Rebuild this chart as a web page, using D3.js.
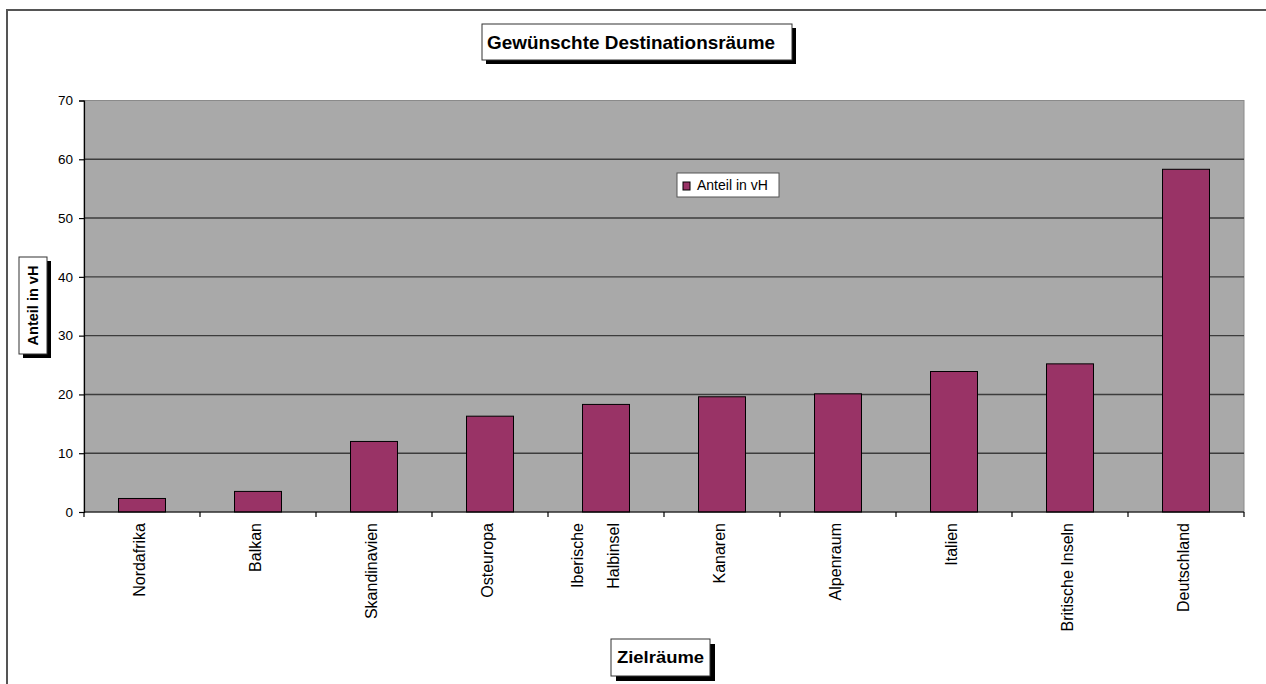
<!DOCTYPE html>
<html>
<head>
<meta charset="utf-8">
<script src="https://cdn.jsdelivr.net/npm/d3@7"></script>
<style>
  html, body { margin: 0; padding: 0; background: #fff; }
  svg { display: block; font-family: "Liberation Sans", Arial, sans-serif; }
</style>
</head>
<body>
<svg id="chart" width="1266" height="684"></svg>
<script>
// Zielräume und Anteil in vH
const categories = ["Nordafrika", "Balkan", "Skandinavien", "Osteuropa", "Iberische Halbinsel",
  "Kanaren", "Alpenraum", "Italien", "Britische Inseln", "Deutschland"];
const values = [2.3, 3.5, 12.0, 16.3, 18.3, 19.6, 20.1, 23.9, 25.2, 58.3];
// Achsenbeschriftung der Kategorien (mit Zeilenumbruch)
const categoryLabelLines = [["Nordafrika"], ["Balkan"], ["Skandinavien"], ["Osteuropa"],
  ["Iberische", "Halbinsel"], ["Kanaren"], ["Alpenraum"], ["Italien"], ["Britische Inseln"], ["Deutschland"]];
const yTicks = [0, 10, 20, 30, 40, 50, 60, 70];
const titleText = "Gewünschte Destinationsräume";
const xTitle = "Zielräume";
const yTitle = "Anteil in vH";
const seriesName = "Anteil in vH";

const svg = d3.select("#chart");
const plot = { left: 84, right: 1244, top: 100.5, bottom: 512 };
const barColor = "#993366";

// Äußerer Diagrammrahmen
svg.append("rect").attr("x", 7).attr("y", 10).attr("width", 1300).attr("height", 700)
  .attr("fill", "#fff").attr("stroke", "#555").attr("stroke-width", 2);

const x = d3.scaleBand().domain(categories).range([plot.left, plot.right])
  .paddingInner(0.595).paddingOuter(0.2975);
const y = d3.scaleLinear().domain([0, 70]).range([plot.bottom, plot.top]);

// Zeichenfläche
svg.append("rect").attr("x", plot.left).attr("y", plot.top)
  .attr("width", plot.right - plot.left).attr("height", plot.bottom - plot.top)
  .attr("fill", "#a9a9a9").attr("stroke", "#8a8a8a").attr("stroke-width", 1);

// Gitterlinien
svg.append("g").selectAll("line").data(yTicks.filter(t => t > 0 && t < 70)).join("line")
  .attr("x1", plot.left).attr("x2", plot.right)
  .attr("y1", d => y(d)).attr("y2", d => y(d))
  .attr("stroke", "#3c3c3c").attr("stroke-width", 1.4);

// Balken
svg.append("g").selectAll("rect").data(categories).join("rect")
  .attr("x", d => x(d)).attr("width", x.bandwidth())
  .attr("y", (d, i) => y(values[i])).attr("height", (d, i) => y(0) - y(values[i]))
  .attr("fill", barColor).attr("stroke", "#000").attr("stroke-width", 1);

// Y-Achse
const yAxis = svg.append("g").attr("transform", `translate(${plot.left},0)`)
  .call(d3.axisLeft(y).tickValues(yTicks).tickSize(5).tickPadding(6));
yAxis.select(".domain").attr("stroke", "#000").attr("stroke-width", 1.2);
yAxis.selectAll(".tick line").attr("stroke", "#000").attr("stroke-width", 1.2);
yAxis.selectAll(".tick text").attr("font-size", 13.5).attr("fill", "#000")
  .attr("font-family", "Liberation Sans, Arial, sans-serif");

// X-Achse mit Teilstrichen an den Kategoriegrenzen
const boundaries = d3.range(categories.length + 1).map(i => x.range()[0] + i * x.step());
svg.append("line").attr("x1", plot.left).attr("x2", plot.right)
  .attr("y1", plot.bottom).attr("y2", plot.bottom).attr("stroke", "#000").attr("stroke-width", 1.2);
svg.append("g").selectAll("line").data(boundaries).join("line")
  .attr("x1", d => d).attr("x2", d => d).attr("y1", plot.bottom).attr("y2", plot.bottom + 5)
  .attr("stroke", "#000").attr("stroke-width", 1.2);

// Kategoriebeschriftungen (senkrecht)
const lineOffsets = { 1: [0], 2: [-26, 10] };
const lbl = svg.append("g");
categories.forEach((c, i) => {
  const lines = categoryLabelLines[i];
  const cx = x(c) + x.bandwidth() / 2 - 3;
  lines.forEach((t, j) => {
    const lx = cx + lineOffsets[lines.length][j];
    lbl.append("text")
      .attr("transform", `translate(${lx},523) rotate(-90)`)
      .attr("text-anchor", "end").attr("dy", "0.35em")
      .attr("font-size", 16).attr("fill", "#000").text(t);
  });
});

// Beschriftungskasten mit Schatten
function shadowBox(bx, by, bw, bh, off) {
  svg.append("rect").attr("x", bx + off).attr("y", by + off).attr("width", bw).attr("height", bh).attr("fill", "#000");
  svg.append("rect").attr("x", bx).attr("y", by).attr("width", bw).attr("height", bh)
    .attr("fill", "#fff").attr("stroke", "#333").attr("stroke-width", 1);
}

// Diagrammtitel
shadowBox(482, 24, 310, 36, 4);
svg.append("text").attr("x", 487).attr("y", 49).attr("font-size", 19).attr("font-weight", "bold")
  .attr("textLength", 288).attr("lengthAdjust", "spacingAndGlyphs").text(titleText);

// X-Achsentitel
shadowBox(611, 639, 99, 37, 5);
svg.append("text").attr("x", 660.5).attr("y", 663).attr("text-anchor", "middle")
  .attr("font-size", 16).attr("font-weight", "bold")
  .attr("textLength", 87).attr("lengthAdjust", "spacingAndGlyphs").text(xTitle);

// Y-Achsentitel
shadowBox(19, 257, 28, 97, 4);
svg.append("text").attr("transform", "translate(33,305.5) rotate(-90)")
  .attr("text-anchor", "middle").attr("dy", "0.36em")
  .attr("font-size", 14.5).attr("font-weight", "bold").text(yTitle);

// Legende
svg.append("rect").attr("x", 677).attr("y", 173).attr("width", 102).attr("height", 24)
  .attr("fill", "#fff").attr("stroke", "#555").attr("stroke-width", 1);
svg.append("rect").attr("x", 683).attr("y", 182).attr("width", 7).attr("height", 8)
  .attr("fill", barColor).attr("stroke", "#000").attr("stroke-width", 1);
svg.append("text").attr("x", 697).attr("y", 190).attr("font-size", 14).text(seriesName);
</script>
</body>
</html>
